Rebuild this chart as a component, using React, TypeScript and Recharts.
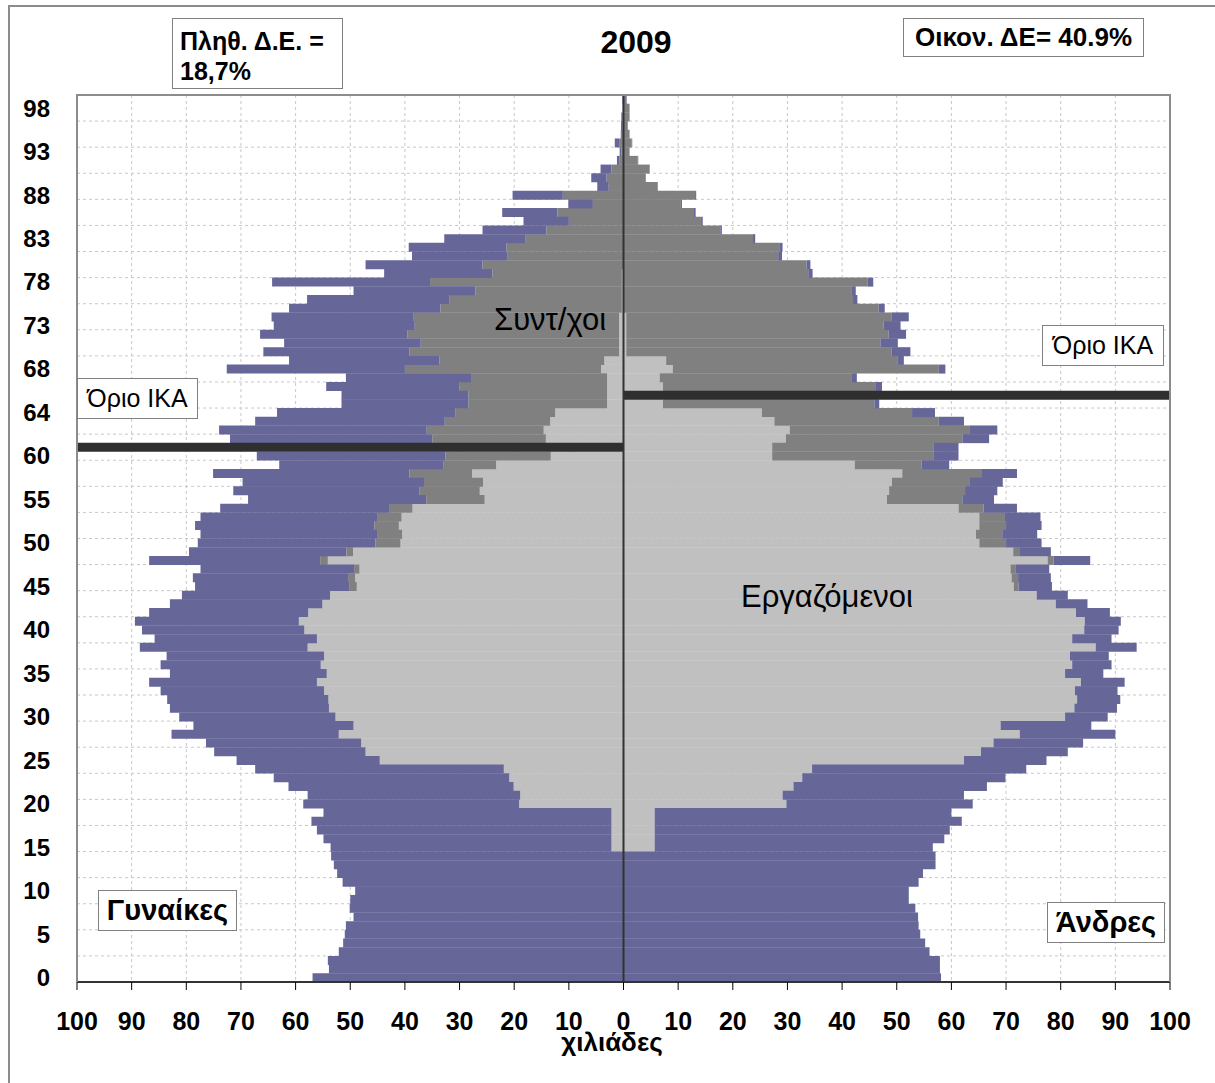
import React from 'react';
import {
  BarChart,
  Bar,
  XAxis,
  YAxis,
  CartesianGrid,
  ReferenceLine,
} from 'recharts';

// category rows, bottom to top; two extra rows hold the "Όριο ΙΚΑ" lines
const ageLabels: string[] = [
  ...Array.from({ length: 61 }, (_, i) => String(i)),
  'ΙΚΑ-Γ',
  '61', '62', '63', '64', '65',
  'ΙΚΑ-Α',
  ...Array.from({ length: 34 }, (_, i) => String(66 + i)),
];

// thousands
const womenTotal = [
  56.9, 53.9, 54.1, 52.1, 51.3, 51.0, 50.8, 49.4, 50.1, 50.0,
  49.1, 51.4, 52.4, 53.0, 53.5, 53.6, 54.9, 56.1, 57.1, 54.9,
  58.6, 57.8, 61.3, 64.0, 67.4, 70.8, 74.9, 76.4, 82.7, 78.7,
  81.3, 83.0, 83.5, 84.7, 86.8, 83.0, 84.7, 83.6, 88.5, 85.8,
  88.1, 89.4, 86.8, 83.0, 80.8, 78.4, 78.8, 77.4, 86.8, 79.5,
  77.9, 77.4, 78.4, 77.4, 73.8, 68.7, 71.4, 69.7, 75.1, 63.0,
  67.1, 0, 72.0, 74.0, 67.4, 63.4, 51.6, 51.6, 54.4, 50.8,
  72.6, 61.2, 65.9, 62.1, 66.5, 64.0, 64.4, 61.2, 57.9, 49.4,
  64.3, 43.8, 47.2, 38.7, 39.3, 32.8, 25.8, 18.3, 22.2, 10.1,
  20.3, 4.8, 5.9, 4.2, 1.2, 0.7, 1.6, 0.5, 0.45, 0.4,
  0.15, 0.2,
];

const womenPensioners = [
  0, 0, 0, 0, 0, 0, 0, 0, 0, 0,
  0, 0, 0, 0, 0, 0, 0, 0, 0, 0,
  0, 0, 0, 0, 0, 0, 0, 0, 0, 0,
  0, 0, 0, 0, 0, 0, 0, 0, 0, 0,
  0, 0, 0, 0, 0, 1.3, 1.3, 1.0, 1.4, 1.2,
  4.6, 4.6, 4.5, 4.5, 4.3, 10.7, 11.0, 10.8, 11.5, 9.6,
  19.3, 0, 20.8, 21.4, 19.3, 18.3, 25.4, 25.4, 27.0, 24.9,
  35.9, 30.2, 38.4, 36.3, 38.7, 37.4, 37.7, 33.2, 31.5, 26.8,
  35.1, 23.7, 25.8, 21.3, 21.4, 18.0, 14.1, 10.0, 12.1, 5.6,
  11.1, 2.7, 3.1, 2.2, 0.7, 0.4, 0.8, 0.3, 0.2, 0.2,
  0.1, 0.1,
];

const womenEmployed = [
  0, 0, 0, 0, 0, 0, 0, 0, 0, 0,
  0, 0, 0, 0, 0, 2.2, 2.2, 2.2, 2.2, 2.2,
  19.1, 18.9, 20.1, 20.9, 21.9, 44.6, 47.2, 48.0, 52.1, 49.4,
  52.7, 53.9, 54.0, 54.8, 56.1, 54.3, 55.4, 54.8, 57.8, 56.1,
  58.4, 59.4, 57.7, 55.1, 53.7, 48.8, 49.1, 48.3, 54.1, 49.5,
  40.8, 40.5, 41.1, 40.6, 38.6, 25.4, 26.3, 25.7, 27.7, 23.3,
  13.3, 0, 14.2, 14.6, 13.4, 12.5, 3.0, 3.0, 3.0, 3.0,
  4.1, 3.5, 0.8, 0.8, 0.8, 0.8, 0.8, 0.3, 0.3, 0.3,
  0.3, 0.3, 0, 0, 0, 0, 0, 0, 0, 0,
  0, 0, 0, 0, 0, 0, 0, 0, 0, 0,
  0, 0,
];

const menTotal = [
  58.1, 57.9, 57.9, 56.0, 55.2, 54.3, 54.0, 53.9, 53.4, 52.2,
  52.2, 54.0, 54.8, 57.1, 57.1, 56.6, 58.7, 59.7, 61.9, 60.0,
  63.9, 62.3, 66.5, 69.9, 73.7, 77.4, 81.3, 84.1, 90.0, 85.6,
  88.6, 90.3, 90.9, 90.4, 91.7, 87.8, 89.3, 88.8, 93.9, 89.3,
  90.6, 91.0, 89.0, 84.9, 81.3, 78.4, 78.2, 77.9, 85.4, 78.2,
  76.5, 75.7, 76.5, 76.3, 72.0, 67.8, 68.4, 69.4, 72.0, 59.6,
  61.3, 61.3, 66.9, 68.4, 62.3, 57.0, 46.8, 0, 47.3, 42.7,
  58.9, 51.3, 52.5, 50.2, 51.7, 50.7, 52.2, 47.8, 42.8, 42.5,
  45.7, 34.6, 34.2, 29.0, 29.1, 24.1, 18.0, 14.5, 13.2, 10.7,
  13.3, 6.3, 4.1, 4.8, 2.7, 1.1, 1.6, 1.1, 0.8, 1.1,
  1.1, 0.6,
];

const menPensioners = [
  0, 0, 0, 0, 0, 0, 0, 0, 0, 0,
  0, 0, 0, 0, 0, 0, 0, 0, 0, 0,
  0, 0, 0, 0, 0, 0, 0, 0, 0, 0,
  0, 0, 0, 0, 0, 0, 0, 0, 0, 0,
  0, 0, 0, 0, 0, 0.9, 1.2, 1.0, 1.1, 1.1,
  4.9, 4.8, 4.9, 4.7, 4.6, 13.8, 13.9, 14.3, 14.6, 12.2,
  29.6, 29.6, 32.3, 33.0, 30.1, 27.5, 38.7, 0, 39.0, 35.2,
  48.7, 42.3, 48.6, 46.5, 48.0, 47.1, 48.5, 46.7, 42.0, 41.8,
  44.7, 33.8, 33.5, 28.3, 28.5, 23.7, 17.7, 14.2, 12.9, 10.5,
  13.1, 6.2, 4.0, 4.7, 2.6, 1.0, 1.5, 1.0, 0.7, 1.0,
  1.0, 0.5,
];

const menEmployed = [
  0, 0, 0, 0, 0, 0, 0, 0, 0, 0,
  0, 0, 0, 0, 0, 5.7, 5.7, 5.7, 5.7, 5.7,
  29.8, 29.1, 31.1, 32.7, 34.5, 62.3, 65.4, 67.7, 72.5, 69.0,
  80.8, 82.5, 83.0, 82.6, 83.7, 80.8, 82.1, 81.7, 86.4, 82.1,
  84.3, 84.4, 82.8, 79.1, 75.6, 71.4, 71.0, 70.8, 77.6, 71.3,
  65.1, 64.5, 65.1, 65.1, 61.3, 48.2, 48.6, 49.1, 51.0, 42.3,
  27.2, 27.2, 29.7, 30.4, 27.6, 25.3, 7.2, 0, 7.2, 6.6,
  9.0, 7.8, 0.5, 0.5, 0.5, 0.5, 0.5, 0, 0, 0,
  0, 0, 0, 0, 0, 0, 0, 0, 0, 0,
  0, 0, 0, 0, 0, 0, 0, 0, 0, 0,
  0, 0,
];

const womenLimitLabel = 'ΙΚΑ-Γ';
const menLimitLabel = 'ΙΚΑ-Α';
const limitValue = 100;

const xTicks = [-100, -90, -80, -70, -60, -50, -40, -30, -20, -10, 0, 10, 20, 30, 40, 50, 60, 70, 80, 90, 100];

const rows = ageLabels.map((label, i) => ({
  label,
  wEmp: -womenEmployed[i],
  wPens: -womenPensioners[i],
  wRest: -Math.max(0, womenTotal[i] - womenEmployed[i] - womenPensioners[i]),
  wLine: label === womenLimitLabel ? -limitValue : 0,
  mEmp: menEmployed[i],
  mPens: menPensioners[i],
  mRest: Math.max(0, menTotal[i] - menEmployed[i] - menPensioners[i]),
  mLine: label === menLimitLabel ? limitValue : 0,
}));

const PURPLE = '#666699';
const DARK = '#808080';
const LIGHT = '#C0C0C0';
const LINE = '#2f2f2f';
const FONT = 'Arial, "Liberation Sans", sans-serif';

const box: React.CSSProperties = {
  position: 'absolute',
  border: '1px solid #808080',
  background: '#fff',
  display: 'flex',
  alignItems: 'center',
  justifyContent: 'center',
  color: '#000',
  boxSizing: 'border-box',
  whiteSpace: 'nowrap',
};

export default function App() {
  const n = ageLabels.length;
  const gridRows = ageLabels.map((_, i) => i).filter(i => i > 0 && i % 3 === 0);

  return (
    <div style={{ position: 'absolute', left: 0, top: 0, width: 1215, height: 1083, background: '#fff', fontFamily: FONT, overflow: 'hidden' }}>
      <div style={{ position: 'absolute', left: 8, top: 5, right: 0, bottom: 0, borderLeft: '2px solid #8c8c8c', borderTop: '2px solid #8c8c8c' }} />

      <div style={{ position: 'absolute', left: 0, top: 0 }}>
        <BarChart
          width={1215}
          height={1083}
          data={rows}
          layout="vertical"
          stackOffset="sign"
          barCategoryGap={0}
          barGap={0}
          margin={{ top: 95, right: 45, bottom: 0, left: 0 }}
        >
          <CartesianGrid
            stroke="#c8c8c8"
            strokeDasharray="3 3"
            horizontalCoordinatesGenerator={({ offset }: any) =>
              gridRows.map(c => offset.top + offset.height * (1 - c / n))
            }
          />
          <XAxis
            type="number"
            domain={[-100, 100]}
            ticks={xTicks}
            tickFormatter={(v: number) => String(Math.abs(v))}
            height={101}
            tickSize={8}
            tickMargin={22}
            axisLine={{ stroke: '#333', strokeWidth: 2 }}
            tickLine={{ stroke: '#000' }}
            tick={{ fontSize: 25, fontWeight: 700, fill: '#000', fontFamily: FONT }}
            interval={0}
          />
          <YAxis
            type="category"
            dataKey="label"
            reversed
            interval={4}
            width={77}
            tickSize={0}
            tickMargin={27}
            axisLine={false}
            tick={{ fontSize: 24, fontWeight: 700, fill: '#000', fontFamily: FONT }}
          />
          <Bar dataKey="wEmp" stackId="s" fill={LIGHT} isAnimationActive={false} />
          <Bar dataKey="wPens" stackId="s" fill={DARK} isAnimationActive={false} />
          <Bar dataKey="wRest" stackId="s" fill={PURPLE} isAnimationActive={false} />
          <Bar dataKey="wLine" stackId="s" fill={LINE} isAnimationActive={false} />
          <Bar dataKey="mEmp" stackId="s" fill={LIGHT} isAnimationActive={false} />
          <Bar dataKey="mPens" stackId="s" fill={DARK} isAnimationActive={false} />
          <Bar dataKey="mRest" stackId="s" fill={PURPLE} isAnimationActive={false} />
          <Bar dataKey="mLine" stackId="s" fill={LINE} isAnimationActive={false} />
          <ReferenceLine x={0} stroke="#333" strokeWidth={2} />
        </BarChart>
      </div>

      {/* plot frame */}
      <div style={{ position: 'absolute', left: 76, top: 94, width: 1095, height: 888, borderTop: '2px solid #8c8c8c', borderLeft: '2px solid #8c8c8c', borderRight: '2px solid #8c8c8c', boxSizing: 'border-box', pointerEvents: 'none' }} />

      <div style={{ ...box, left: 172, top: 18, width: 171, height: 71, display: 'block', padding: '7px 0 0 7px', fontSize: 25, fontWeight: 700, lineHeight: '30px' }}>
        Πληθ. Δ.Ε. =<br />18,7%
      </div>
      <div style={{ position: 'absolute', left: 536, width: 200, top: 23, textAlign: 'center', fontSize: 32, fontWeight: 700, lineHeight: '38px' }}>2009</div>
      <div style={{ ...box, left: 903, top: 18, width: 241, height: 39, fontSize: 26, fontWeight: 700 }}>Οικον. ΔΕ= 40.9%</div>

      <div style={{ ...box, left: 77, top: 378, width: 121, height: 41, fontSize: 25 }}>Όριο ΙΚΑ</div>
      <div style={{ ...box, left: 1042, top: 325, width: 122, height: 41, fontSize: 25 }}>Όριο ΙΚΑ</div>

      <div style={{ position: 'absolute', left: 494, top: 302, fontSize: 31, lineHeight: '36px' }}>Συντ/χοι</div>
      <div style={{ position: 'absolute', left: 741, top: 579, fontSize: 31, lineHeight: '36px' }}>Εργαζόμενοι</div>

      <div style={{ ...box, left: 98, top: 890, width: 139, height: 41, fontSize: 29, fontWeight: 700 }}>Γυναίκες</div>
      <div style={{ ...box, left: 1047, top: 902, width: 118, height: 41, fontSize: 29, fontWeight: 700 }}>Άνδρες</div>

      <div style={{ position: 'absolute', left: 512, width: 200, top: 1026, textAlign: 'center', fontSize: 26, fontWeight: 700, lineHeight: '32px' }}>χιλιάδες</div>
    </div>
  );
}
